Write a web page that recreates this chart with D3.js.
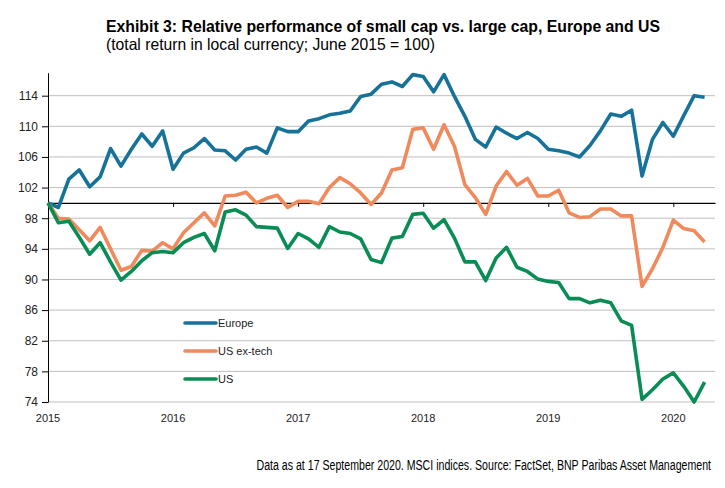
<!DOCTYPE html>
<html lang="en">
<head>
  <meta charset="UTF-8">
  <title>Exhibit 3</title>
  <script src="https://d3js.org/d3.v7.min.js"></script>
  <style>
    * { margin: 0; padding: 0; box-sizing: border-box; }
    body { background: #fff; font-family: "Liberation Sans", Arial, sans-serif; }
    .narrow { font-family: "Liberation Sans Narrow", "Arial Narrow", "Liberation Sans", sans-serif; }
  </style>
</head>
<body>
  <div id="chart"></div>
  <script>
    // monthly index, June 2015 = 100
    const yearLabels = ["2015", "2016", "2017", "2018", "2019", "2020"];
    const yTicks = [74, 78, 82, 86, 90, 94, 98, 102, 106, 110, 114];

    const europe = [100, 99.4, 103.1, 104.3, 102.1, 103.4, 107.1, 104.8, 107.0, 109.0,
      107.4, 109.4, 104.4, 106.5, 107.2, 108.4, 106.9, 106.8, 105.6, 107.0,
      107.3, 106.5, 109.8, 109.3, 109.3, 110.7, 111.0, 111.5, 111.7, 112.0,
      113.9, 114.2, 115.5, 115.8, 115.2, 116.75, 116.5, 114.5, 116.75, 113.9,
      111.3, 108.3, 107.3, 109.9, 109.1, 108.4, 109.2, 108.4, 107.0, 106.8,
      106.5, 106.0, 107.5, 109.4, 111.6, 111.3, 112.1, 103.5, 108.3, 110.5,
      108.7, 111.4, 114.0, 113.8];

    const usExTech = [100, 98.0, 97.9, 96.5, 95.05, 96.8, 94.0, 91.2, 91.7, 93.8,
      93.7, 94.8, 94.0, 96.1, 97.4, 98.7, 97.0, 100.9, 101.0, 101.4,
      100.0, 100.6, 101.0, 99.4, 100.2, 100.2, 99.9, 102.0, 103.3, 102.5,
      101.3, 99.8, 101.3, 104.3, 104.6, 109.6, 109.8, 107.0, 110.2, 107.4,
      102.4, 100.7, 98.5, 102.2, 104.1, 102.3, 103.2, 100.9, 100.9, 101.65,
      98.7, 98.1, 98.2, 99.2, 99.2, 98.3, 98.3, 89.1, 91.4, 94.2,
      97.75, 96.65, 96.35, 94.9];

    const us = [100, 97.4, 97.6, 95.5, 93.3, 94.8, 92.3, 89.9, 91.05, 92.45,
      93.5, 93.65, 93.5, 94.8, 95.5, 96.0, 93.75, 98.8, 99.1, 98.4,
      96.9, 96.8, 96.7, 94.05, 96.0, 95.3, 94.2, 96.9, 96.2, 96.0,
      95.3, 92.6, 92.2, 95.4, 95.6, 98.5, 98.65, 96.7, 97.8, 95.4,
      92.3, 92.3, 89.85, 92.8, 94.2, 91.6, 91.05, 90.05, 89.75, 89.6,
      87.5, 87.5, 86.95, 87.3, 86.95, 84.6, 84.0, 74.35, 75.6, 77.0,
      77.8, 76.05, 74.0, 76.6];

    const seriesNames = ["Europe", "US ex-tech", "US"];
    const seriesColors = ["#17729a", "#f0895b", "#0a8c55"];

    const series = [europe, usExTech, us].map((values, k) => ({
      name: seriesNames[k], color: seriesColors[k], values: values
    }));

    const W = 725, H = 488;
    const margin = {top: 72.7, right: 10, bottom: 86, left: 48};
    const width = W - margin.left - margin.right,
          height = H - margin.top - margin.bottom;

    const svg = d3.select("#chart")
                  .append("svg")
                  .attr("width", W)
                  .attr("height", H);

    const g = svg.append("g")
                 .attr("transform", `translate(${margin.left},${margin.top})`);

    const x = d3.scaleLinear().domain([0, 64]).range([0, width]);
    const y = d3.scaleLinear().domain([74, 117]).range([height, 0]);

    // title block (narrow look via textLength)
    svg.append("text")
       .attr("class", "narrow")
       .attr("x", 106).attr("y", 32)
       .attr("textLength", 554).attr("lengthAdjust", "spacingAndGlyphs")
       .style("font-size", "16.5px").style("font-weight", "bold").style("fill", "#000")
       .text("Exhibit 3: Relative performance of small cap vs. large cap, Europe and US");
    svg.append("text")
       .attr("class", "narrow")
       .attr("x", 106).attr("y", 50)
       .attr("textLength", 329).attr("lengthAdjust", "spacingAndGlyphs")
       .style("font-size", "16.5px").style("fill", "#000")
       .text("(total return in local currency; June 2015 = 100)");

    // grid
    g.append("g")
     .selectAll("line")
     .data(yTicks)
     .enter()
     .append("line")
     .attr("x1", 0).attr("x2", width)
     .attr("y1", d => y(d)).attr("y2", d => y(d))
     .attr("stroke", "#bfbfbf").attr("stroke-width", 1);

    // y axis
    const yAxis = g.append("g")
      .call(d3.axisLeft(y).tickValues(yTicks).tickSize(6).tickSizeOuter(0).tickFormat(d3.format("d")));
    yAxis.select(".domain").attr("stroke", "#000");
    yAxis.selectAll(".tick line").attr("stroke", "#000");
    yAxis.selectAll("text")
         .attr("x", -10)
         .style("font-size", "12px")
         .style("font-family", "Liberation Sans, Arial, sans-serif")
         .style("fill", "#222");

    // 100 baseline with year ticks
    const base = g.append("g")
      .attr("transform", `translate(0,${y(100)})`)
      .call(d3.axisBottom(x).tickValues(yearLabels.map((d, i) => i * 12)).tickSize(4).tickSizeOuter(0).tickFormat(""));
    base.select(".domain").attr("stroke", "#000").attr("stroke-width", 1.2);
    base.selectAll(".tick line").attr("stroke", "#000");

    // year labels at bottom
    g.append("g")
     .selectAll("text")
     .data(yearLabels)
     .enter()
     .append("text")
     .attr("x", (d, i) => x(i * 12))
     .attr("y", height + 20)
     .attr("text-anchor", "middle")
     .style("font-size", "11px")
     .style("fill", "#222")
     .text(d => d);

    // lines
    const line = d3.line()
                   .x((d, i) => x(i))
                   .y(d => y(d));

    g.selectAll(".series")
     .data(series)
     .enter()
     .append("path")
     .attr("class", "series")
     .attr("fill", "none")
     .attr("stroke", d => d.color)
     .attr("stroke-width", 3.6)
     .attr("stroke-linejoin", "round")
     .attr("d", d => line(d.values));

    // legend
    const legend = svg.append("g").attr("transform", "translate(185,323)");
    series.forEach((s, i) => {
      legend.append("line")
            .attr("x1", 0).attr("x2", 31)
            .attr("y1", i * 28).attr("y2", i * 28)
            .attr("stroke", s.color)
            .attr("stroke-width", 3.6)
            .attr("stroke-linecap", "round");
      legend.append("text")
            .attr("x", 33).attr("y", i * 28 + 4)
            .style("font-size", "11px")
            .style("fill", "#222")
            .text(s.name);
    });

    // source note, squeezed horizontally to the original width
    const note = svg.append("text")
       .attr("x", 0).attr("y", 0)
       .attr("text-anchor", "end")
       .style("font-family", "Liberation Sans, Arial, sans-serif")
       .style("font-size", "15.5px").style("fill", "#000")
       .text("Data as at 17 September 2020. MSCI indices. Source: FactSet, BNP Paribas Asset Management");
    const noteW = note.node().getComputedTextLength();
    note.attr("transform", `translate(711,470) scale(${Math.min(1, 455 / noteW).toFixed(4)},1)`);
  </script>
</body>
</html>
